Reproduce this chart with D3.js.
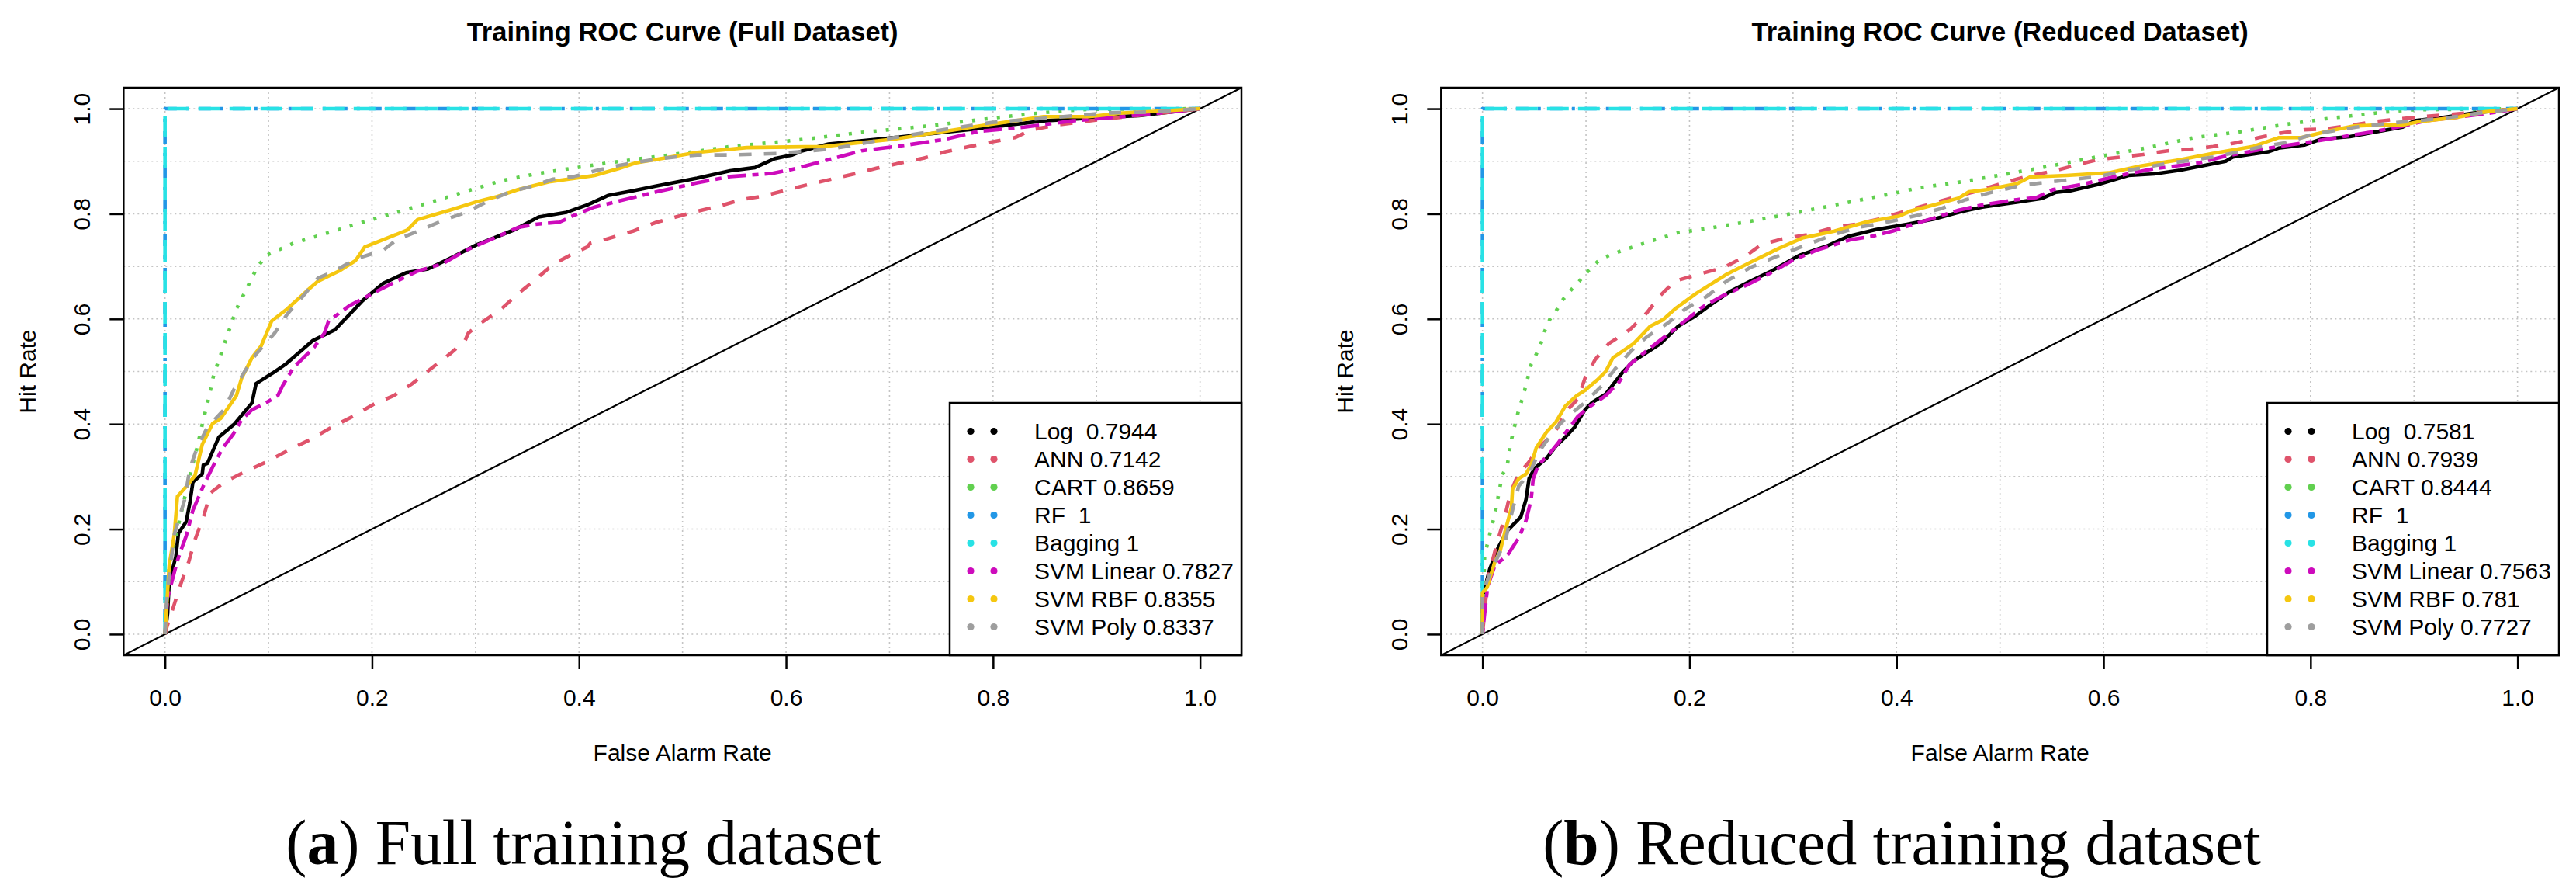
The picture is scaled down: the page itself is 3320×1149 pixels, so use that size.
<!DOCTYPE html>
<html lang="en">
<head>
<meta charset="UTF-8">
<title>Training ROC Curves</title>
<style>
  body { margin: 0; background: #fff; }
  svg text { font-family: "Liberation Sans", Arial, sans-serif; }
</style>
</head>
<body>
<script src="https://cdn.jsdelivr.net/npm/d3@7"></script>
<script>
// ---- data ----
const models = ["Log", "ANN", "CART", "RF", "Bagging", "SVM Linear", "SVM RBF", "SVM Poly"];
const legendFull = ["Log  0.7944", "ANN 0.7142", "CART 0.8659", "RF  1", "Bagging 1",
                    "SVM Linear 0.7827", "SVM RBF 0.8355", "SVM Poly 0.8337"];
const legendReduced = ["Log  0.7581", "ANN 0.7939", "CART 0.8444", "RF  1", "Bagging 1",
                       "SVM Linear 0.7563", "SVM RBF 0.781", "SVM Poly 0.7727"];
const tickValues = [0, 0.2, 0.4, 0.6, 0.8, 1.0];
const tickLabels = ["0.0", "0.2", "0.4", "0.6", "0.8", "1.0"];

// [false alarm rate, hit rate]
const fullLog = [[0,0],[0.0025,0.039],[0.004,0.098],[0.0105,0.148],[0.013,0.192],[0.0205,0.214],[0.024,0.25],[0.027,0.29],
  [0.036,0.305],[0.037,0.322],[0.041,0.325],[0.052,0.375],[0.067,0.40],[0.084,0.44],[0.088,0.477],[0.104,0.497],
  [0.116,0.513],[0.143,0.559],[0.164,0.579],[0.191,0.635],[0.211,0.668],[0.233,0.688],[0.254,0.695],[0.278,0.718],
  [0.301,0.741],[0.338,0.770],[0.361,0.794],[0.388,0.803],[0.408,0.817],[0.428,0.835],[0.452,0.844],[0.475,0.853],
  [0.514,0.868],[0.546,0.882],[0.570,0.888],[0.589,0.905],[0.606,0.912],[0.616,0.920],[0.641,0.933],[0.704,0.945],
  [0.786,0.962],[0.849,0.977],[0.893,0.982],[0.941,0.987],[0.972,0.994],[1,1]];
const fullAnn = [[0,0],[0.002,0.015],[0.0085,0.054],[0.015,0.094],[0.0225,0.135],[0.029,0.18],[0.037,0.222],[0.044,0.269],
  [0.057,0.289],[0.077,0.309],[0.098,0.328],[0.121,0.352],[0.141,0.371],[0.161,0.394],[0.181,0.414],[0.201,0.437],
  [0.221,0.454],[0.239,0.477],[0.258,0.507],[0.275,0.533],[0.290,0.559],[0.293,0.573],[0.305,0.592],[0.325,0.619],
  [0.341,0.648],[0.358,0.675],[0.375,0.704],[0.391,0.721],[0.408,0.737],[0.411,0.744],[0.425,0.751],[0.452,0.767],
  [0.475,0.784],[0.514,0.805],[0.534,0.814],[0.557,0.827],[0.578,0.834],[0.600,0.845],[0.622,0.856],[0.644,0.866],
  [0.666,0.876],[0.688,0.887],[0.711,0.897],[0.733,0.906],[0.754,0.918],[0.777,0.928],[0.799,0.937],[0.821,0.945],
  [0.837,0.960],[0.862,0.969],[0.893,0.977],[0.925,0.984],[0.972,0.994],[1,1]];
const fullCart = [[0,0],[0.004,0.13],[0.012,0.2],[0.024,0.302],[0.031,0.355],[0.037,0.408],[0.042,0.447],[0.047,0.493],
  [0.054,0.533],[0.061,0.573],[0.069,0.619],[0.079,0.658],[0.089,0.698],[0.098,0.721],[0.124,0.744],[0.158,0.764],
  [0.191,0.784],[0.224,0.803],[0.258,0.823],[0.291,0.843],[0.325,0.863],[0.358,0.876],[0.391,0.886],[0.425,0.896],
  [0.475,0.909],[0.514,0.919],[0.546,0.928],[0.609,0.94],[0.673,0.955],[0.736,0.967],[0.799,0.982],[0.830,0.989],
  [0.862,0.995],[0.893,0.999],[1,1]];
const fullRf = [[0,0],[0,1],[1,1]];
const fullBagging = [[0,0],[0,1],[1,1]];
const fullLinear = [[0,0],[0.0025,0.069],[0.012,0.14],[0.016,0.163],[0.0205,0.187],[0.027,0.236],[0.037,0.282],
  [0.047,0.322],[0.056,0.355],[0.066,0.381],[0.074,0.408],[0.084,0.427],[0.098,0.441],[0.109,0.454],[0.114,0.474],
  [0.124,0.507],[0.144,0.546],[0.154,0.573],[0.158,0.596],[0.178,0.625],[0.204,0.652],[0.224,0.672],[0.244,0.691],
  [0.268,0.705],[0.291,0.731],[0.318,0.754],[0.341,0.774],[0.358,0.780],[0.381,0.784],[0.395,0.797],[0.415,0.813],
  [0.442,0.826],[0.475,0.842],[0.514,0.859],[0.546,0.871],[0.587,0.877],[0.609,0.886],[0.641,0.903],[0.673,0.920],
  [0.717,0.931],[0.754,0.942],[0.786,0.957],[0.830,0.965],[0.877,0.977],[0.925,0.985],[0.972,0.994],[1,1]];
const fullRbf = [[0,0],[0.004,0.13],[0.009,0.19],[0.012,0.262],[0.021,0.282],[0.029,0.302],[0.036,0.361],[0.046,0.401],
  [0.054,0.411],[0.069,0.454],[0.074,0.487],[0.084,0.526],[0.093,0.549],[0.103,0.596],[0.118,0.619],[0.138,0.655],
  [0.148,0.672],[0.168,0.691],[0.184,0.711],[0.193,0.737],[0.211,0.751],[0.234,0.769],[0.244,0.789],[0.275,0.807],
  [0.301,0.823],[0.321,0.833],[0.341,0.846],[0.371,0.861],[0.415,0.873],[0.438,0.886],[0.455,0.897],[0.482,0.906],
  [0.514,0.917],[0.562,0.926],[0.636,0.928],[0.704,0.942],[0.786,0.967],[0.849,0.985],[0.893,0.985],[0.925,0.992],
  [0.956,0.995],[1,1]];
const fullPoly = [[0,0],[0.001,0.05],[0.004,0.11],[0.009,0.19],[0.019,0.256],[0.024,0.315],[0.031,0.355],[0.041,0.394],
  [0.057,0.427],[0.067,0.467],[0.077,0.50],[0.088,0.533],[0.106,0.573],[0.118,0.609],[0.134,0.645],[0.148,0.678],
  [0.164,0.691],[0.184,0.714],[0.211,0.731],[0.224,0.751],[0.248,0.770],[0.268,0.787],[0.291,0.803],[0.311,0.823],
  [0.331,0.840],[0.355,0.853],[0.375,0.866],[0.395,0.871],[0.418,0.883],[0.438,0.892],[0.458,0.899],[0.482,0.906],
  [0.514,0.912],[0.546,0.912],[0.594,0.915],[0.641,0.923],[0.666,0.931],[0.704,0.945],[0.751,0.960],[0.799,0.974],
  [0.862,0.984],[0.909,0.992],[0.956,0.994],[1,1]];

const redLog = [[0,0],[0,0.071],[0.007,0.124],[0.015,0.164],[0.024,0.197],[0.037,0.223],[0.042,0.256],[0.045,0.296],
  [0.050,0.315],[0.062,0.335],[0.071,0.358],[0.080,0.375],[0.089,0.394],[0.099,0.427],[0.106,0.441],[0.119,0.457],
  [0.136,0.500],[0.146,0.520],[0.172,0.553],[0.189,0.586],[0.206,0.606],[0.219,0.625],[0.239,0.652],[0.259,0.672],
  [0.279,0.691],[0.306,0.721],[0.333,0.739],[0.353,0.757],[0.380,0.770],[0.410,0.780],[0.436,0.790],[0.460,0.803],
  [0.483,0.813],[0.516,0.822],[0.540,0.829],[0.554,0.841],[0.568,0.844],[0.595,0.856],[0.624,0.873],[0.649,0.876],
  [0.674,0.883],[0.718,0.900],[0.725,0.908],[0.759,0.918],[0.769,0.925],[0.794,0.931],[0.810,0.942],[0.838,0.947],
  [0.889,0.965],[0.900,0.977],[0.927,0.983],[0.958,0.992],[1,1]];
const redAnn = [[0,0],[0.005,0.104],[0.0145,0.177],[0.0214,0.222],[0.027,0.269],[0.034,0.302],[0.045,0.328],[0.054,0.355],
  [0.069,0.381],[0.082,0.427],[0.092,0.447],[0.099,0.487],[0.109,0.523],[0.122,0.553],[0.142,0.579],[0.159,0.612],
  [0.172,0.645],[0.186,0.672],[0.209,0.685],[0.233,0.698],[0.253,0.718],[0.269,0.741],[0.289,0.752],[0.316,0.761],
  [0.340,0.774],[0.360,0.780],[0.383,0.790],[0.403,0.802],[0.426,0.815],[0.453,0.830],[0.477,0.843],[0.507,0.861],
  [0.529,0.873],[0.551,0.881],[0.572,0.892],[0.594,0.903],[0.617,0.908],[0.638,0.913],[0.662,0.920],[0.684,0.923],
  [0.706,0.928],[0.728,0.935],[0.750,0.945],[0.772,0.954],[0.794,0.960],[0.816,0.962],[0.838,0.968],[0.860,0.975],
  [0.882,0.980],[0.904,0.984],[0.927,0.988],[0.952,0.992],[1,1]];
const redCart = [[0,0],[0.002,0.148],[0.0045,0.17],[0.007,0.19],[0.01,0.213],[0.0125,0.234],[0.019,0.302],[0.024,0.322],
  [0.027,0.361],[0.030,0.388],[0.035,0.427],[0.039,0.451],[0.042,0.474],[0.047,0.513],[0.052,0.533],[0.057,0.556],
  [0.060,0.576],[0.065,0.599],[0.071,0.615],[0.077,0.635],[0.084,0.652],[0.092,0.668],[0.099,0.685],[0.107,0.701],
  [0.114,0.714],[0.126,0.724],[0.156,0.744],[0.189,0.764],[0.223,0.774],[0.256,0.785],[0.289,0.797],[0.323,0.810],
  [0.356,0.823],[0.390,0.836],[0.423,0.850],[0.457,0.859],[0.510,0.877],[0.554,0.893],[0.598,0.910],[0.643,0.926],
  [0.687,0.945],[0.731,0.956],[0.775,0.970],[0.819,0.982],[0.864,0.992],[0.895,0.998],[1,1]];
const redRf = [[0,0],[0,1],[1,1]];
const redBagging = [[0,0],[0,1],[1,1]];
const redLinear = [[0,0],[0.002,0.038],[0.005,0.091],[0.012,0.131],[0.024,0.150],[0.035,0.183],[0.042,0.216],
  [0.047,0.256],[0.049,0.296],[0.054,0.322],[0.064,0.342],[0.072,0.361],[0.082,0.388],[0.092,0.414],[0.102,0.431],
  [0.119,0.454],[0.132,0.480],[0.142,0.513],[0.159,0.540],[0.176,0.566],[0.193,0.592],[0.212,0.622],[0.233,0.645],
  [0.256,0.665],[0.276,0.685],[0.299,0.711],[0.323,0.731],[0.340,0.741],[0.356,0.751],[0.376,0.757],[0.396,0.767],
  [0.416,0.780],[0.436,0.792],[0.460,0.807],[0.483,0.817],[0.516,0.827],[0.535,0.831],[0.551,0.846],[0.579,0.856],
  [0.611,0.871],[0.649,0.886],[0.690,0.896],[0.718,0.910],[0.759,0.925],[0.800,0.937],[0.832,0.947],[0.863,0.957],
  [0.889,0.967],[0.911,0.977],[0.942,0.984],[0.974,0.992],[1,1]];
const redRbf = [[0,0],[0,0.079],[0.0045,0.089],[0.012,0.138],[0.017,0.158],[0.022,0.197],[0.028,0.241],[0.029,0.276],
  [0.035,0.296],[0.042,0.305],[0.047,0.322],[0.052,0.355],[0.062,0.385],[0.071,0.404],[0.080,0.434],[0.091,0.454],
  [0.099,0.464],[0.111,0.484],[0.119,0.5],[0.126,0.526],[0.146,0.553],[0.162,0.586],[0.174,0.598],[0.186,0.619],
  [0.206,0.648],[0.236,0.685],[0.259,0.708],[0.286,0.734],[0.309,0.754],[0.340,0.767],[0.370,0.784],[0.403,0.796],
  [0.413,0.805],[0.436,0.817],[0.460,0.830],[0.470,0.842],[0.487,0.846],[0.516,0.857],[0.529,0.870],[0.564,0.873],
  [0.605,0.878],[0.636,0.891],[0.674,0.903],[0.706,0.915],[0.744,0.928],[0.769,0.945],[0.791,0.945],[0.816,0.957],
  [0.841,0.967],[0.863,0.969],[0.889,0.969],[0.904,0.975],[0.942,0.984],[0.968,0.994],[1,1]];
const redPoly = [[0,0],[0,0.078],[0.005,0.104],[0.014,0.144],[0.022,0.177],[0.029,0.236],[0.035,0.282],[0.045,0.305],
  [0.055,0.348],[0.069,0.388],[0.082,0.414],[0.099,0.441],[0.116,0.474],[0.129,0.507],[0.144,0.540],[0.159,0.566],
  [0.179,0.592],[0.196,0.619],[0.216,0.642],[0.236,0.672],[0.259,0.698],[0.283,0.718],[0.313,0.741],[0.340,0.761],
  [0.363,0.774],[0.393,0.785],[0.420,0.797],[0.443,0.810],[0.467,0.827],[0.490,0.840],[0.516,0.852],[0.532,0.857],
  [0.554,0.862],[0.595,0.871],[0.621,0.882],[0.662,0.896],[0.706,0.908],[0.731,0.918],[0.753,0.928],[0.775,0.935],
  [0.800,0.950],[0.819,0.957],[0.844,0.965],[0.879,0.973],[0.908,0.978],[0.933,0.983],[0.964,0.992],[1,1]];

const fullSeries = [fullLog, fullAnn, fullCart, fullRf, fullBagging, fullLinear, fullRbf, fullPoly];
const redSeries = [redLog, redAnn, redCart, redRf, redBagging, redLinear, redRbf, redPoly];

// ---- styles (R palette, lty 1..8) ----
const colors = ["#000000", "#DF536B", "#61D04F", "#2297E6", "#28E2E5", "#CD0BBC", "#F5C710", "#9E9E9E"];
const dashes = [null, "16,16", "4,12", "4,12,16,12", "28,12", "8,8,24,8", null, "16,16"];

const width = 3320, height = 1149;
const box = {left: 159.3, right: 1600, top: 113, bottom: 844};
const panelShift = 1698;

const svg = d3.select("body")
  .append("svg")
  .attr("width", width)
  .attr("height", height)
  .style("background", "#fff");

const x = d3.scaleLinear().domain([-0.04, 1.04]).range([box.left, box.right]);
const y = d3.scaleLinear().domain([-0.04, 1.04]).range([box.bottom, box.top]);
const line = d3.line().x(d => x(d[0])).y(d => y(d[1]));

function drawPanel(idx, title, series, labels, letter, captionRest, captionX) {
  const g = svg.append("g").attr("transform", `translate(${idx * panelShift},0)`);

  g.append("clipPath").attr("id", "clip" + idx)
    .append("rect")
    .attr("x", box.left).attr("y", box.top)
    .attr("width", box.right - box.left).attr("height", box.bottom - box.top);

  const plot = g.append("g").attr("clip-path", `url(#clip${idx})`);

  // dotted grid every 0.1
  const grid = d3.range(0, 11).map(i => i / 10);
  plot.selectAll(".vgrid").data(grid).enter().append("line")
    .attr("x1", d => x(d)).attr("x2", d => x(d))
    .attr("y1", box.top).attr("y2", box.bottom)
    .attr("stroke", "#c4c4c4").attr("stroke-width", 1.6).attr("stroke-dasharray", "2,4");
  plot.selectAll(".hgrid").data(grid).enter().append("line")
    .attr("y1", d => y(d)).attr("y2", d => y(d))
    .attr("x1", box.left).attr("x2", box.right)
    .attr("stroke", "#c4c4c4").attr("stroke-width", 1.6).attr("stroke-dasharray", "2,4");

  // reference diagonal
  plot.append("line")
    .attr("x1", x(-0.04)).attr("y1", y(-0.04))
    .attr("x2", x(1.04)).attr("y2", y(1.04))
    .attr("stroke", "#000").attr("stroke-width", 2.2);

  series.forEach((pts, i) => {
    plot.append("path")
      .datum(pts)
      .attr("d", line)
      .attr("fill", "none")
      .attr("stroke", colors[i])
      .attr("stroke-width", 4.6)
      .attr("stroke-linejoin", "round")
      .attr("stroke-dasharray", dashes[i]);
  });

  // axes
  const fmt = (d) => tickLabels[tickValues.indexOf(d)];
  const xa = g.append("g").attr("transform", `translate(0,${box.bottom})`)
    .call(d3.axisBottom(x).tickValues(tickValues).tickFormat(fmt).tickSize(18).tickPadding(26));
  const ya = g.append("g").attr("transform", `translate(${box.left},0)`)
    .call(d3.axisLeft(y).tickValues(tickValues).tickFormat(fmt).tickSize(18));
  [xa, ya].forEach(a => {
    a.select(".domain").remove();
    a.selectAll("line").attr("stroke", "#000").attr("stroke-width", 2.5);
    a.selectAll("text").attr("fill", "#000").style("font-size", "30px")
      .style("font-family", '"Liberation Sans", Arial, sans-serif');
  });
  ya.selectAll("text")
    .attr("transform", "rotate(-90)")
    .attr("x", 0).attr("y", -43).attr("dy", 0)
    .attr("text-anchor", "middle");

  g.append("rect")
    .attr("x", box.left).attr("y", box.top)
    .attr("width", box.right - box.left).attr("height", box.bottom - box.top)
    .attr("fill", "none").attr("stroke", "#000").attr("stroke-width", 2.5);

  // legend
  const lg = g.append("g");
  lg.append("rect")
    .attr("x", 1224).attr("y", 519)
    .attr("width", box.right - 1224).attr("height", box.bottom - 519)
    .attr("fill", "#fff").attr("stroke", "#000").attr("stroke-width", 2.5);
  labels.forEach((lab, i) => {
    [1251, 1281].forEach(cx => {
      lg.append("circle").attr("cx", cx).attr("cy", 555.5 + 36 * i).attr("r", 4.6).attr("fill", colors[i]);
    });
    lg.append("text")
      .attr("x", 1333).attr("y", 566 + 36 * i)
      .attr("xml:space", "preserve")
      .style("white-space", "pre")
      .style("font-size", "30px")
      .text(lab);
  });

  // titles
  const cx = (box.left + box.right) / 2;
  g.append("text").attr("x", cx).attr("y", 53)
    .attr("text-anchor", "middle")
    .style("font-size", "34.5px").style("font-weight", "bold")
    .text(title);
  g.append("text").attr("x", cx).attr("y", 980)
    .attr("text-anchor", "middle").style("font-size", "30px")
    .text("False Alarm Rate");
  g.append("text")
    .attr("transform", `translate(46,${(box.top + box.bottom) / 2}) rotate(-90)`)
    .attr("text-anchor", "middle").style("font-size", "30px")
    .text("Hit Rate");

  const cap = g.append("text").attr("x", captionX).attr("y", 1113)
    .attr("text-anchor", "middle")
    .style("font-family", '"Liberation Serif", "DejaVu Serif", serif')
    .style("font-size", "81.5px");
  cap.append("tspan").text("(");
  cap.append("tspan").style("font-weight", "bold").text(letter);
  cap.append("tspan").text(") " + captionRest);
}

drawPanel(0, "Training ROC Curve (Full Dataset)", fullSeries, legendFull, "a", "Full training dataset", 752);
drawPanel(1, "Training ROC Curve (Reduced Dataset)", redSeries, legendReduced, "b", "Reduced training dataset", 753);
</script>
</body>
</html>
